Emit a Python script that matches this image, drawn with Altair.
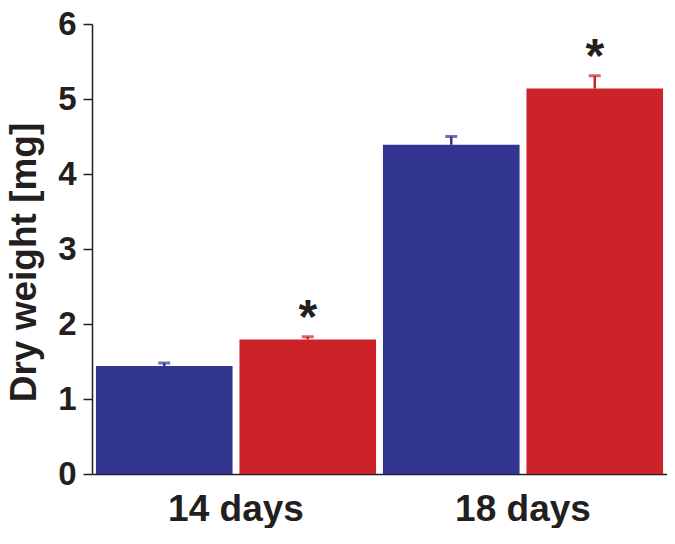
import altair as alt
import pandas as pd

days = ["14 days", "14 days", "18 days", "18 days"]
groups = ["control", "treated", "control", "treated"]
means = [1.44, 1.795, 4.39, 5.14]
uppers = [1.48, 1.83, 4.50, 5.31]
stars = ["", "*", "", "*"]
y_ticks = [0, 1, 2, 3, 4, 5, 6]

df = pd.DataFrame(dict(day=days, group=groups, mean=means, upper=uppers, star=stars))

FONT = "Liberation Sans"
TXT = "#231F20"
colors = ["#32358F", "#CC2229"]

x = alt.X(
    "day:N",
    title=None,
    scale=alt.Scale(paddingInner=0.024, paddingOuter=0.0137),
    axis=alt.Axis(
        labelAngle=0, labelFontSize=37, labelFontWeight="bold", labelFont=FONT,
        labelColor=TXT, labelPadding=17, ticks=False, tickSize=0,
        domainColor=TXT, domainWidth=1.5,
    ),
)
xo = alt.XOffset("group:N", scale=alt.Scale(paddingInner=0.048, paddingOuter=0))
color = alt.Color("group:N", scale=alt.Scale(domain=["control", "treated"], range=colors), legend=None)
yscale = alt.Scale(domain=[0, 6], nice=False)

bars = alt.Chart(df).mark_bar().encode(
    x=x, xOffset=xo,
    y=alt.Y(
        "mean:Q", scale=yscale,
        axis=alt.Axis(
            values=y_ticks, format="d", title="Dry weight [mg]", grid=False,
            labelFontSize=33, labelFontWeight="bold", labelFont=FONT, labelColor=TXT,
            labelPadding=7, tickSize=9, tickWidth=1.5, tickColor=TXT,
            domainColor=TXT, domainWidth=1.5,
            titleFontSize=37, titleFontWeight="bold", titleFont=FONT, titleColor=TXT,
            titleAngle=270, titleAlign="center", titleBaseline="alphabetic",
            titleX=-57, titleY=238,
        ),
    ),
    color=color,
)
rules = alt.Chart(df).mark_rule(strokeWidth=2.5).encode(
    x=x, xOffset=xo, y=alt.Y("mean:Q", scale=yscale), y2="upper:Q", color=color
)
caps = alt.Chart(df).mark_tick(thickness=3, size=12).encode(
    x=x, xOffset=xo, y=alt.Y("upper:Q", scale=yscale), color=color
)
text = alt.Chart(df).mark_text(
    fontSize=48, fontWeight="bold", font=FONT, color=TXT, baseline="alphabetic", dy=-4
).encode(x=x, xOffset=xo, y=alt.Y("upper:Q", scale=yscale), text="star:N")

chart = (
    alt.layer(bars, rules, caps, text)
    .properties(
        width=575, height=450,
        autosize=alt.AutoSizeParams(type="none"),
        padding={"left": 84, "top": 16, "right": 0, "bottom": 54},
    )
    .configure_view(stroke=None)
)

chart.save("out.html", embed_options={"renderer": "svg", "actions": False})
